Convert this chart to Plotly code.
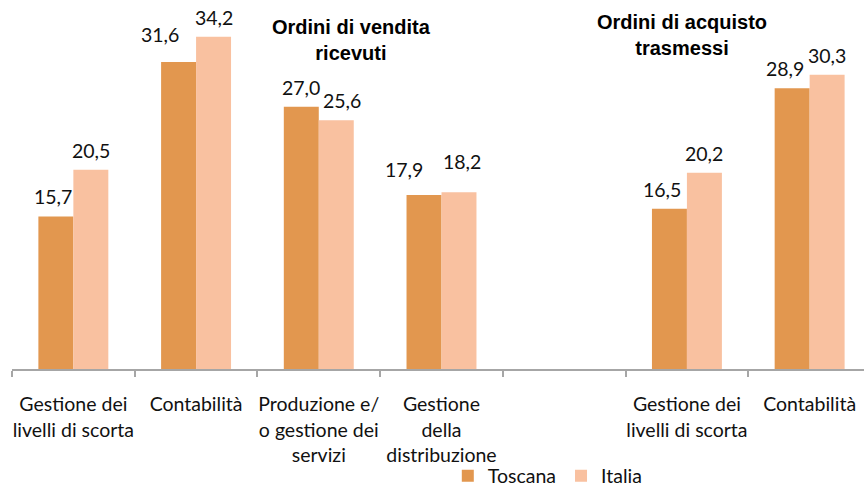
import plotly.graph_objects as go

categories = ["Gestione dei<br>livelli di scorta", "Contabilità", "Produzione e/<br>o gestione dei<br>servizi",
              "Gestione<br>della<br>distribuzione", "", "Gestione dei<br>livelli di scorta", "Contabilità"]
toscana = [15.7, 31.6, 27.0, 17.9, None, 16.5, 28.9]
italia = [20.5, 34.2, 25.6, 18.2, None, 20.2, 30.3]
group_titles = ["<b>Ordini di vendita</b><br><b>ricevuti</b>", "<b>Ordini di acquisto</b><br><b>trasmessi</b>"]

C_TOS = "#E2974F"
C_ITA = "#F9C1A0"
LABEL_FONT = dict(family="Lato", size=19.5, color="#111111")

# label fine-tuning (pixel shifts), styling only
tos_dx = [-3, -19, 0, -20, 0, -7, -7]
tos_dy = [0, 8, 0, 6, 0, 0, 0]
ita_dx = [0, 0, 6, 3, 0, 0, 0]
ita_dy = [0, 0, 0, 11, 0, 0, 0]

xs = list(range(len(categories)))
fig = go.Figure()
fig.add_trace(go.Bar(x=xs, y=toscana, name="Toscana", marker=dict(color=C_TOS, line=dict(width=0))))
fig.add_trace(go.Bar(x=xs, y=italia, name="Italia", marker=dict(color=C_ITA, line=dict(width=0))))

bargap = 0.43
half = (1 - bargap) / 4
ann = []
for i in xs:
    for vals, sign, dx, dy in ((toscana, -1, tos_dx, tos_dy), (italia, 1, ita_dx, ita_dy)):
        v = vals[i]
        if v is None:
            continue
        ann.append(dict(x=i + sign * half, y=v, xref="x", yref="y", text=f"{v:.1f}".replace(".", ","),
                        showarrow=False, yanchor="bottom", xanchor="center", yshift=6 + dy[i], xshift=dx[i],
                        font=LABEL_FONT))
title_x = [0.398, 0.786]
title_y = [1.045, 1.06]
for t, tx, ty in zip(group_titles, title_x, title_y):
    ann.append(dict(x=tx, y=ty, xref="paper", yref="paper", text=t, showarrow=False, xanchor="center",
                    yanchor="top", font=dict(family="Liberation Sans", size=20, color="#000000")))

fig.update_layout(
    width=864, height=488,
    margin=dict(l=12, r=0, t=29, b=119, autoexpand=False),
    paper_bgcolor="white", plot_bgcolor="white",
    barmode="group", bargap=bargap, bargroupgap=0,
    showlegend=True,
    legend=dict(orientation="h", x=0.5115, xanchor="left", y=-0.372, yanchor="bottom",
                bgcolor="rgba(0,0,0,0)",
                font=dict(family="Lato", size=19.5, color="#111111"), traceorder="normal",
                itemwidth=30, tracegroupgap=0),
    annotations=ann,
    xaxis=dict(range=[-0.5, 6.443], tickmode="array", tickvals=xs, ticktext=categories,
               ticks="", showline=True, linecolor="#A6A6A6", linewidth=1.5, showgrid=False,
               zeroline=False, tickfont=dict(family="Lato", size=19.5, color="#111111"),
               ticklabelstandoff=17, automargin=False,
               minor=dict(tickmode="linear", tick0=-0.5, dtick=1, ticks="outside", ticklen=6,
                          tickcolor="#A6A6A6", tickwidth=1.5, showgrid=False)),
    yaxis=dict(range=[0, 35], visible=False, showgrid=False, zeroline=False, automargin=False),
)

fig.write_html("out.html", config={"displayModeBar": False},
               post_script="document.body.style.margin='0';")
